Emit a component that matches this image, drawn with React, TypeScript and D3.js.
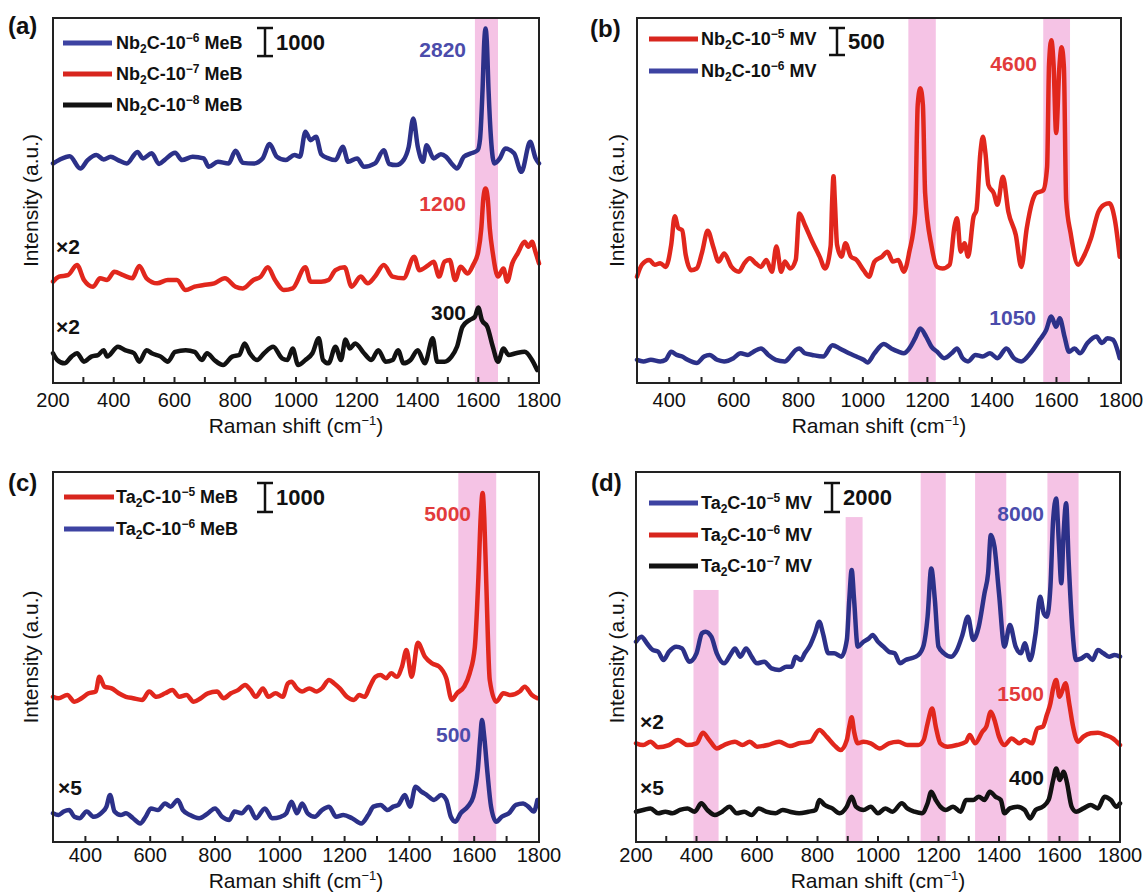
import React from 'react';
import * as d3 from 'd3';

type P = [number, number];

// ---------------- DATA (Raman shift cm-1, intensity counts incl. stacking offset) ----------------
const aBlue: P[] = [[200,7820],[220,7940],[255,8080],[290,7640],[314,7940],[343,8120],[367,7960],[390,8060],[414,7940],[443,7820],[478,8230],[496,8000],[525,8180],[549,7800],[567,7940],[602,8200],[625,7940],[660,8060],[696,8000],[713,7700],[743,7880],[778,7820],[801,8270],[825,7840],[860,7820],[890,8000],[913,8510],[937,8060],[966,7940],[995,8120],[1013,8060],[1031,8950],[1048,8650],[1066,8770],[1083,8150],[1107,8000],[1130,7940],[1154,8410],[1172,7880],[1201,8000],[1224,7700],[1260,7820],[1289,8290],[1307,7800],[1330,7760],[1354,7940],[1371,8410],[1386,9420],[1401,8410],[1418,7880],[1430,8470],[1453,8000],[1477,8150],[1494,8060],[1512,7820],[1530,7640],[1553,8060],[1577,8180],[1598,8290],[1606,8700],[1614,10400],[1620,12200],[1624,12630],[1628,12200],[1634,10400],[1642,8700],[1653,7820],[1671,8000],[1689,8350],[1718,8180],[1742,7520],[1771,8590],[1789,8000],[1800,7820]];
const aRed: P[] = [[200,3610],[220,3790],[249,3840],[279,4200],[302,3670],[332,3430],[355,3730],[378,3670],[402,3960],[431,3840],[461,3730],[484,4170],[508,3730],[543,3550],[578,3670],[608,3670],[637,3310],[666,3430],[696,3490],[731,3550],[766,3730],[801,3430],[825,3370],[860,3670],[884,3790],[907,4120],[931,3670],[960,3310],[989,3370],[1031,4120],[1048,3610],[1083,3610],[1107,3670],[1130,4020],[1160,4120],[1183,3430],[1213,3790],[1236,3550],[1260,3790],[1289,4200],[1318,3790],[1354,3730],[1389,4500],[1406,4020],[1436,4200],[1453,4320],[1471,3790],[1489,4320],[1506,4380],[1524,3670],[1542,4140],[1565,3900],[1583,4200],[1600,4680],[1610,5500],[1617,6600],[1624,6930],[1631,6600],[1638,5500],[1648,4620],[1665,3790],[1683,4080],[1695,3610],[1712,4260],[1730,4620],[1753,5030],[1765,4850],[1777,5030],[1788,4680],[1800,4260]];
const aBlack: P[] = [[200,1060],[214,820],[238,700],[261,940],[279,1060],[302,760],[326,940],[349,1000],[367,1170],[378,940],[414,1290],[437,1170],[467,1060],[484,760],[508,1170],[525,1060],[555,940],[578,760],[602,1110],[637,1170],[666,1110],[690,820],[707,1060],[731,820],[760,640],[790,940],[813,1000],[831,1410],[848,1060],[872,820],[895,1060],[925,1290],[954,880],[972,820],[989,1230],[1007,640],[1031,820],[1054,1060],[1075,1590],[1089,820],[1107,700],[1130,1290],[1148,820],[1163,1550],[1177,1230],[1195,1410],[1224,1060],[1248,820],[1271,1170],[1295,760],[1318,820],[1336,1170],[1354,700],[1377,820],[1401,1170],[1424,700],[1450,1590],[1465,760],[1489,760],[1512,940],[1530,1290],[1548,2000],[1571,2240],[1589,2360],[1600,2690],[1612,2240],[1630,2000],[1648,1290],[1665,760],[1683,1230],[1700,1000],[1724,1060],[1753,1110],[1777,820],[1794,460]];

const bRed: P[] = [[300,1970],[315,2190],[338,2280],[355,2190],[372,2220],[389,2150],[406,2560],[417,3090],[428,2870],[440,2830],[451,2370],[468,2090],[485,2120],[502,2430],[519,2820],[536,2530],[553,2250],[570,2400],[593,2150],[616,2060],[633,2220],[650,2310],[667,2220],[684,2150],[701,2280],[718,2060],[732,2530],[747,2060],[758,2250],[775,2120],[792,2280],[803,3140],[820,2930],[843,2620],[866,2340],[883,2120],[900,2530],[905,3400],[909,3830],[913,3400],[920,2560],[934,2340],[946,2590],[963,2340],[980,2280],[1002,2090],[1019,1970],[1036,2250],[1059,2340],[1076,2430],[1093,2250],[1110,2280],[1127,2060],[1144,2430],[1162,3140],[1170,5150],[1178,5460],[1186,5150],[1193,3510],[1213,2530],[1230,2150],[1247,2120],[1269,2190],[1284,2900],[1292,3050],[1303,2430],[1315,2590],[1326,2340],[1343,3080],[1352,3200],[1364,4250],[1372,4560],[1380,4250],[1389,3670],[1406,3510],[1417,3300],[1434,3820],[1451,3170],[1474,2740],[1491,2150],[1508,2870],[1525,3360],[1536,3510],[1559,3570],[1571,4000],[1577,5900],[1584,6350],[1591,5900],[1599,4630],[1609,5850],[1616,6220],[1623,5850],[1630,3390],[1644,2770],[1667,2190],[1684,2340],[1707,2680],[1730,3170],[1747,3300],[1764,3330],[1781,3020],[1796,2340]];
const bBlue: P[] = [[300,430],[320,400],[343,430],[372,400],[389,430],[406,580],[423,520],[440,490],[457,430],[485,370],[508,490],[525,520],[548,430],[570,400],[599,460],[621,550],[644,520],[661,580],[684,640],[707,520],[730,430],[758,400],[775,490],[792,610],[803,640],[820,550],[843,520],[877,490],[906,700],[928,640],[957,550],[980,490],[1002,430],[1014,380],[1036,550],[1065,720],[1088,640],[1110,580],[1127,550],[1144,640],[1162,830],[1178,1010],[1196,860],[1213,670],[1230,580],[1252,460],[1275,550],[1292,640],[1309,460],[1326,400],[1349,520],[1371,490],[1394,550],[1417,460],[1445,640],[1468,460],[1491,400],[1519,550],[1548,800],[1568,980],[1584,1230],[1599,1040],[1610,1200],[1625,860],[1639,580],[1656,640],[1673,550],[1696,740],[1724,860],[1741,740],[1758,830],[1775,800],[1796,460]];

const cRed: P[] = [[300,5010],[317,4960],[344,5070],[366,4840],[388,4960],[410,5130],[432,5190],[443,5700],[459,5360],[481,5300],[503,5130],[525,5010],[547,4960],[575,4900],[597,5190],[619,5010],[646,5130],[668,5240],[690,5010],[712,5070],[734,4840],[756,4960],[778,5130],[806,5190],[827,4960],[849,5130],[871,5240],[893,5420],[910,5240],[926,5010],[948,5300],[965,5010],[987,5130],[1009,5010],[1025,5470],[1036,5530],[1053,5300],[1069,5190],[1091,5300],[1113,5190],[1130,5300],[1152,5590],[1168,5470],[1185,5300],[1207,5010],[1229,4900],[1245,5070],[1262,5010],[1278,5360],[1295,5700],[1311,5760],[1328,5650],[1344,5820],[1361,5700],[1377,6050],[1391,6620],[1407,5700],[1426,6870],[1448,6390],[1470,6160],[1492,6050],[1514,5650],[1531,4900],[1547,5130],[1569,5360],[1586,5820],[1602,6730],[1613,9140],[1620,11200],[1626,12040],[1631,11200],[1637,9040],[1648,5590],[1668,4840],[1690,5130],[1712,5070],[1740,5190],[1756,5360],[1778,5070],[1795,4960]];
const cBlue: P[] = [[300,990],[317,930],[333,1050],[350,1100],[366,870],[382,820],[404,1050],[426,870],[448,990],[465,1220],[476,1620],[490,1050],[509,930],[525,990],[547,820],[569,640],[586,870],[602,1160],[624,1100],[646,1330],[663,1220],[685,1450],[701,1100],[723,930],[751,820],[778,990],[800,1160],[822,870],[844,760],[860,1050],[882,990],[904,1220],[926,820],[954,1160],[976,820],[1003,870],[1020,990],[1036,1390],[1053,990],[1069,1330],[1086,990],[1108,870],[1130,1100],[1152,1220],[1174,870],[1196,930],[1223,820],[1251,640],[1273,930],[1289,1220],[1311,1280],[1333,1100],[1350,1220],[1366,1280],[1386,1620],[1402,1220],[1419,1910],[1437,1740],[1454,1620],[1476,1450],[1498,1620],[1514,1450],[1528,870],[1542,700],[1558,990],[1580,1220],[1597,1560],[1611,2480],[1619,3630],[1624,4210],[1631,3630],[1641,2370],[1652,1220],[1668,700],[1685,870],[1707,990],[1729,1280],[1751,1330],[1767,1220],[1784,1050],[1795,1450]];

const dBlue: P[] = [[200,13820],[218,14170],[236,13710],[255,13250],[273,13130],[291,12560],[309,13130],[333,13480],[352,13360],[376,12440],[400,13020],[418,14400],[430,14510],[449,14170],[467,13020],[491,12330],[515,13020],[527,13360],[545,12790],[564,13360],[582,12790],[600,12330],[624,12440],[648,11980],[673,11870],[697,12100],[715,12100],[727,12790],[745,12560],[758,13020],[776,13590],[792,14400],[806,15200],[818,14400],[836,13020],[855,13020],[879,12790],[897,13940],[905,16700],[913,18770],[921,16700],[933,13480],[952,13820],[970,14050],[982,14280],[1000,13820],[1018,13480],[1036,13130],[1055,13020],[1073,12330],[1091,12560],[1109,12670],[1133,12900],[1151,13590],[1164,15550],[1176,18880],[1188,16700],[1200,13480],[1218,13020],[1242,12790],[1261,13250],[1279,14280],[1297,15550],[1315,13940],[1333,14860],[1352,17160],[1364,18540],[1373,21180],[1385,20380],[1400,17160],[1418,13480],[1436,14970],[1455,13480],[1473,13020],[1485,13710],[1503,12560],[1521,14400],[1536,16930],[1548,15780],[1558,15550],[1570,17620],[1579,22220],[1589,23710],[1598,20610],[1606,17850],[1613,21070],[1622,23370],[1630,19460],[1642,14860],[1655,12560],[1673,12670],[1691,12900],[1709,12560],[1727,13250],[1745,13020],[1764,12790],[1782,12900],[1800,12790]];
const dRed: P[] = [[200,6810],[224,6690],[248,6920],[273,6530],[309,6690],[339,7040],[370,6690],[400,6810],[421,7540],[442,7040],[467,6460],[491,6690],[527,6920],[552,6690],[576,6920],[600,6580],[636,6690],[673,6920],[709,6620],[739,6810],[776,6920],[806,7730],[830,7270],[855,6690],[876,6350],[897,7040],[905,7960],[913,8600],[921,7610],[933,6810],[952,6920],[976,6810],[1006,6460],[1036,6810],[1067,6920],[1097,6690],[1133,6690],[1151,7040],[1164,8190],[1179,9220],[1191,7960],[1206,6810],[1230,6580],[1261,6690],[1291,6920],[1303,7380],[1321,6810],[1345,7610],[1358,7960],[1373,8990],[1385,8420],[1400,7270],[1418,6690],[1442,7150],[1467,6810],[1485,7040],[1509,6810],[1527,7840],[1545,7960],[1558,8760],[1570,9570],[1579,10600],[1589,11180],[1600,10030],[1608,10370],[1620,10950],[1632,9570],[1645,7960],[1661,6920],[1679,7270],[1703,7500],[1727,7540],[1752,7380],[1776,7150],[1800,6690]];
const dBlack: P[] = [[200,2090],[224,2210],[248,2320],[273,1980],[297,2090],[321,1980],[345,2210],[370,2320],[394,2090],[416,2670],[436,2210],[461,1860],[485,2090],[509,2440],[533,1980],[558,2090],[582,1860],[606,2320],[630,2090],[661,1980],[685,2210],[709,2090],[739,1980],[770,2090],[794,2210],[806,2900],[824,2550],[849,2320],[873,1980],[897,2440],[913,3130],[927,2440],[952,2210],[976,2440],[1000,1980],[1024,2320],[1048,2090],[1079,2670],[1097,2320],[1121,2090],[1145,1980],[1164,2670],[1176,3470],[1191,2900],[1206,2440],[1224,2210],[1248,2440],[1273,2090],[1291,2900],[1315,2900],[1333,3130],[1352,2900],[1370,3470],[1388,3130],[1406,2900],[1418,1980],[1436,2320],[1461,2440],[1485,2210],[1503,1630],[1521,2210],[1545,2440],[1564,2900],[1579,4280],[1589,5080],[1601,4280],[1613,4850],[1624,4160],[1640,2440],[1655,2090],[1679,2320],[1703,2550],[1727,2320],[1749,3130],[1770,2900],[1788,2440],[1800,2670]];

// highlighted bands [from, to, topIntensity|null]
const bandsA: [number, number, number | null][] = [[1589, 1665, null]];
const bandsB: [number, number, number | null][] = [[1141, 1226, null], [1559, 1642, null]];
const bandsC: [number, number, number | null][] = [[1551, 1668, null]];
const bandsD: [number, number, number | null][] = [[390, 473, 17390], [893, 949, 22420], [1141, 1224, null], [1321, 1424, null], [1560, 1663, null]];

// legend names: [element, exponent, suffix]
const legendA = [['Nb', '−6', 'MeB'], ['Nb', '−7', 'MeB'], ['Nb', '−8', 'MeB']];
const legendB = [['Nb', '−5', 'MV'], ['Nb', '−6', 'MV']];
const legendC = [['Ta', '−5', 'MeB'], ['Ta', '−6', 'MeB']];
const legendD = [['Ta', '−5', 'MV'], ['Ta', '−6', 'MV'], ['Ta', '−7', 'MV']];

const peakLabelsA = ['2820', '1200', '300'];
const peakLabelsB = ['4600', '1050'];
const peakLabelsC = ['5000', '500'];
const peakLabelsD = ['8000', '1500', '400'];

const scaleBars = [1000, 500, 1000, 2000];

// ---------------- STYLE ----------------
const FONT = '"Liberation Sans", Arial, Helvetica, sans-serif';
const BLUE = '#2c3189';
const RED = '#e1271d';
const BLACK = '#121212';
const BLUE_LEG = '#3d43a2';
const RED_LEG = '#d8261e';
const BLUE_TXT = '#4b4cab';
const RED_TXT = '#e23b3b';
const PINK = '#f5c3e5';

type Cfg = {
  tag: string;
  box: { left: number; right: number; top: number; bottom: number };
  xDomain: [number, number];
  yMax: number;
  series: { data: P[]; color: string; legColor: string }[];
  legend: string[][];
  legendPos: { x1: number; x2: number; ys: number[]; tx: number };
  bands: [number, number, number | null][];
  bar: { value: number; x: number; top: number; lx: number };
  labels: { text: string; x: number; y: number; color: string; anchor: string }[];
  tagPos: { x: number; y: number };
  yLabelX: number;
  tickOffset: number;
  titleOffset: number;
};

const panels: Cfg[] = [
  {
    tag: '(a)', box: { left: 53, right: 539, top: 18, bottom: 383 }, xDomain: [200, 1800], yMax: 13000,
    series: [
      { data: aBlack, color: BLACK, legColor: BLACK },
      { data: aRed, color: RED, legColor: RED_LEG },
      { data: aBlue, color: BLUE, legColor: BLUE_LEG },
    ],
    legend: legendA,
    legendPos: { x1: 63, x2: 112, ys: [43, 74, 105], tx: 116 },
    bands: bandsA,
    bar: { value: scaleBars[0], x: 265, top: 28, lx: 276 },
    labels: [
      { text: peakLabelsA[0], x: 466, y: 57, color: BLUE_TXT, anchor: 'end' },
      { text: peakLabelsA[1], x: 466, y: 211, color: RED_TXT, anchor: 'end' },
      { text: peakLabelsA[2], x: 466, y: 320, color: BLACK, anchor: 'end' },
      { text: '×2', x: 56, y: 254, color: BLACK, anchor: 'start' },
      { text: '×2', x: 56, y: 334, color: BLACK, anchor: 'start' },
    ],
    tagPos: { x: 8, y: 34 }, yLabelX: 38, tickOffset: 24, titleOffset: 50,
  },
  {
    tag: '(b)', box: { left: 637, right: 1121, top: 18, bottom: 383 }, xDomain: [300, 1800], yMax: 6760,
    series: [
      { data: bBlue, color: BLUE, legColor: BLUE_LEG },
      { data: bRed, color: RED, legColor: RED_LEG },
    ],
    legend: legendB,
    legendPos: { x1: 649, x2: 698, ys: [39, 71], tx: 701 },
    bands: bandsB,
    bar: { value: scaleBars[1], x: 837, top: 28, lx: 848 },
    labels: [
      { text: peakLabelsB[0], x: 1037, y: 71, color: RED_TXT, anchor: 'end' },
      { text: peakLabelsB[1], x: 1036, y: 325, color: BLUE_TXT, anchor: 'end' },
    ],
    tagPos: { x: 590, y: 37 }, yLabelX: 624, tickOffset: 24, titleOffset: 50,
  },
  {
    tag: '(c)', box: { left: 53, right: 539, top: 472, bottom: 842 }, xDomain: [300, 1800], yMax: 12765,
    series: [
      { data: cBlue, color: BLUE, legColor: BLUE_LEG },
      { data: cRed, color: RED, legColor: RED_LEG },
    ],
    legend: legendC,
    legendPos: { x1: 64, x2: 114, ys: [497, 529], tx: 116 },
    bands: bandsC,
    bar: { value: scaleBars[2], x: 265, top: 483, lx: 276 },
    labels: [
      { text: peakLabelsC[0], x: 471, y: 521, color: RED_TXT, anchor: 'end' },
      { text: peakLabelsC[1], x: 471, y: 742, color: BLUE_TXT, anchor: 'end' },
      { text: '×5', x: 58, y: 795, color: BLACK, anchor: 'start' },
    ],
    tagPos: { x: 8, y: 491 }, yLabelX: 38, tickOffset: 20, titleOffset: 46,
  },
  {
    tag: '(d)', box: { left: 636, right: 1120, top: 472, bottom: 842 }, xDomain: [200, 1800], yMax: 25530,
    series: [
      { data: dBlack, color: BLACK, legColor: BLACK },
      { data: dRed, color: RED, legColor: RED_LEG },
      { data: dBlue, color: BLUE, legColor: BLUE_LEG },
    ],
    legend: legendD,
    legendPos: { x1: 649, x2: 698, ys: [503, 535, 566], tx: 701 },
    bands: bandsD,
    bar: { value: scaleBars[3], x: 832, top: 483, lx: 843 },
    labels: [
      { text: peakLabelsD[0], x: 1044, y: 521, color: BLUE_TXT, anchor: 'end' },
      { text: peakLabelsD[1], x: 1044, y: 701, color: RED_TXT, anchor: 'end' },
      { text: peakLabelsD[2], x: 1044, y: 785, color: BLACK, anchor: 'end' },
      { text: '×2', x: 640, y: 729, color: BLACK, anchor: 'start' },
      { text: '×5', x: 640, y: 795, color: BLACK, anchor: 'start' },
    ],
    tagPos: { x: 591, y: 491 }, yLabelX: 624, tickOffset: 20, titleOffset: 46,
  },
];

function ChemLabel({ x, y, el, exp, suffix }: { x: number; y: number; el: string; exp: string; suffix: string }) {
  const size = 18;
  const small = 12;
  return (
    <text x={x} y={y} fontFamily={FONT} fontWeight="bold" fontSize={size} fill="#111">
      {el}
      <tspan dy={4} fontSize={small}>2</tspan>
      <tspan dy={-4}>C-10</tspan>
      <tspan dy={-7} fontSize={small}>{exp}</tspan>
      <tspan dy={7}>{' ' + suffix}</tspan>
    </text>
  );
}

function Panel({ cfg }: { cfg: Cfg }) {
  const { left, right, top, bottom } = cfg.box;
  const x = d3.scaleLinear().domain(cfg.xDomain).range([left, right]);
  const y = d3.scaleLinear().domain([0, cfg.yMax]).range([bottom, top]);
  const line = d3.line<P>().x(d => x(d[0])).y(d => y(d[1])).curve(d3.curveMonotoneX);
  const minor = d3.range(cfg.xDomain[0], cfg.xDomain[1] + 1, 100);
  const major = minor.filter(v => v % 200 === 0);
  const barLen = y(0) - y(cfg.bar.value);
  const cx = (left + right) / 2;
  const cy = (top + bottom) / 2;
  return (
    <g>
      {cfg.bands.map((b, i) => {
        const yt = b[2] == null ? top : y(b[2]);
        return <rect key={'b' + i} x={x(b[0])} y={yt} width={x(b[1]) - x(b[0])} height={bottom - yt} fill={PINK} />;
      })}
      {cfg.series.map((s, i) => (
        <path key={'s' + i} d={line(s.data) || ''} fill="none" stroke={s.color} strokeWidth={4.5} strokeLinejoin="round" strokeLinecap="round" />
      ))}
      <rect x={left} y={top} width={right - left} height={bottom - top} fill="none" stroke="#222" strokeWidth={2} />
      {minor.map(v => (
        <line key={'t' + v} x1={x(v)} x2={x(v)} y1={bottom} y2={bottom - 6} stroke="#222" strokeWidth={2} />
      ))}
      {major.map(v => (
        <text key={'l' + v} x={x(v)} y={bottom + cfg.tickOffset} textAnchor="middle" fontFamily={FONT} fontSize={20} fill="#111">{v}</text>
      ))}
      <text x={cx} y={bottom + cfg.titleOffset} textAnchor="middle" fontFamily={FONT} fontSize={21} fill="#111">
        Raman shift (cm<tspan dy={-8} fontSize={13}>−1</tspan><tspan dy={8}>)</tspan>
      </text>
      <text transform={`translate(${cfg.yLabelX},${cy}) rotate(-90)`} textAnchor="middle" fontFamily={FONT} fontSize={21} fill="#111">Intensity (a.u.)</text>
      <text x={cfg.tagPos.x} y={cfg.tagPos.y} fontFamily={FONT} fontWeight="bold" fontSize={24} fill="#111">{cfg.tag}</text>
      {cfg.legend.map((l, i) => (
        <g key={'g' + i}>
          <line x1={cfg.legendPos.x1} x2={cfg.legendPos.x2} y1={cfg.legendPos.ys[i]} y2={cfg.legendPos.ys[i]} stroke={cfg.series[cfg.series.length - 1 - i].legColor} strokeWidth={5} />
          <ChemLabel x={cfg.legendPos.tx} y={cfg.legendPos.ys[i] + 6} el={l[0]} exp={l[1]} suffix={l[2]} />
        </g>
      ))}
      <g stroke="#111" strokeWidth={2.5}>
        <line x1={cfg.bar.x} x2={cfg.bar.x} y1={cfg.bar.top} y2={cfg.bar.top + barLen} />
        <line x1={cfg.bar.x - 8} x2={cfg.bar.x + 8} y1={cfg.bar.top} y2={cfg.bar.top} />
        <line x1={cfg.bar.x - 8} x2={cfg.bar.x + 8} y1={cfg.bar.top + barLen} y2={cfg.bar.top + barLen} />
      </g>
      <text x={cfg.bar.lx} y={cfg.bar.top + barLen / 2 + 8} fontFamily={FONT} fontWeight="bold" fontSize={22} fill="#111">{cfg.bar.value}</text>
      {cfg.labels.map((l, i) => (
        <text key={'a' + i} x={l.x} y={l.y} textAnchor={l.anchor as any} fontFamily={FONT} fontWeight="bold" fontSize={21} fill={l.color}>{l.text}</text>
      ))}
    </g>
  );
}

export default function App() {
  return (
    <svg width={1145} height={893} style={{ position: 'absolute', left: 0, top: 0, background: '#fff' }}>
      <rect x={0} y={0} width={1145} height={893} fill="#fff" />
      {panels.map((p, i) => <Panel key={i} cfg={p} />)}
    </svg>
  );
}
